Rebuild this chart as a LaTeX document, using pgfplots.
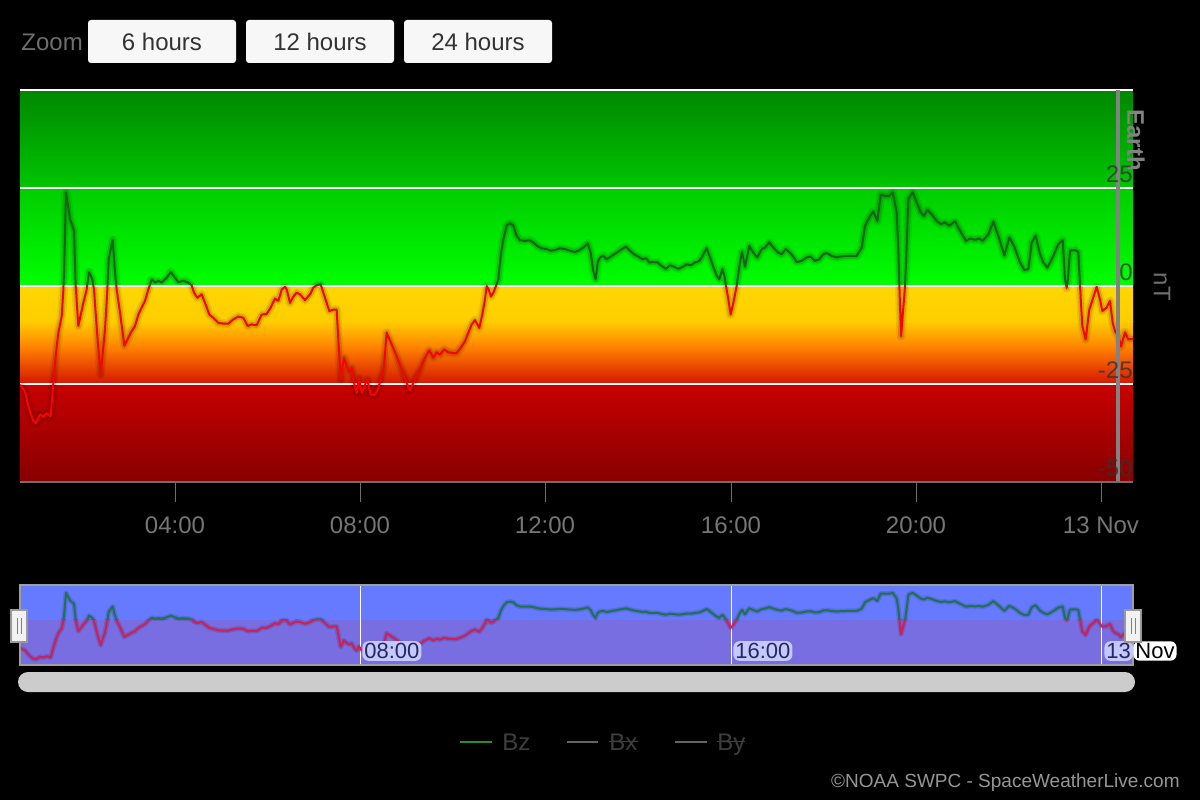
\documentclass[border=0pt]{standalone}
\usepackage{pgfplots}
\pgfplotsset{compat=1.18}
\usepackage{pgfplotstable}
\usepackage{fontspec}
\setmainfont{Liberation Sans}

\definecolor{gA}{RGB}{0,135,0}
\definecolor{gB}{RGB}{0,198,0}
\definecolor{gC}{RGB}{0,205,0}
\definecolor{gD}{RGB}{0,255,0}
\definecolor{yA}{RGB}{255,215,0}
\definecolor{yB}{RGB}{255,205,0}
\definecolor{oA}{RGB}{255,125,0}
\definecolor{oB}{RGB}{212,22,0}
\definecolor{rA}{RGB}{200,0,0}
\definecolor{rB}{RGB}{135,0,0}
\definecolor{bzgreen}{RGB}{25,100,25}
\definecolor{navblue}{RGB}{102,122,255}
\definecolor{navpurple}{RGB}{120,110,225}
\definecolor{navgreen}{RGB}{30,115,75}
\definecolor{navred}{RGB}{210,30,85}
\definecolor{lav}{RGB}{195,200,255}
\definecolor{navtext}{RGB}{40,40,95}
\definecolor{ticktext}{RGB}{118,118,118}
\definecolor{axgrey}{RGB}{110,110,110}
\definecolor{earthgrey}{RGB}{130,130,130}
\definecolor{btnfill}{RGB}{247,247,247}
\definecolor{btntext}{RGB}{51,51,51}
\definecolor{legtext}{RGB}{62,62,62}
\definecolor{leggrey}{RGB}{100,100,100}
\definecolor{leggreen}{RGB}{40,140,40}
\definecolor{credit}{RGB}{150,150,150}
\definecolor{scroll}{RGB}{204,204,204}

\pgfplotstableread{
h bz
0.654 -25.2
0.762 -26.9
0.834 -30.7
0.942 -34.5
1.000 -35.0
1.086 -32.8
1.158 -33.3
1.230 -32.4
1.316 -33.3
1.374 -24.7
1.431 -17.1
1.482 -11.9
1.554 -7.7
1.590 -0.9
1.611 6.0
1.647 23.9
1.733 17.1
1.820 14.1
1.856 0.0
1.913 -10.2
2.021 -4.3
2.093 -0.9
2.144 3.6
2.215 1.7
2.251 -0.9
2.323 -12.8
2.395 -22.6
2.489 -11.1
2.539 -0.9
2.568 6.8
2.654 11.8
2.705 3.4
2.741 -0.9
2.813 -6.8
2.906 -15.2
2.993 -13.2
3.064 -11.5
3.136 -10.2
3.208 -7.3
3.280 -5.5
3.352 -3.8
3.424 -0.9
3.496 1.7
3.568 0.9
3.640 1.3
3.712 0.9
3.820 2.1
3.906 3.6
4.000 2.1
4.072 1.0
4.180 1.3
4.287 0.9
4.359 0.2
4.410 -1.7
4.482 -3.0
4.575 -2.1
4.647 -4.3
4.741 -7.3
4.827 -8.1
4.935 -9.4
5.043 -9.6
5.150 -9.6
5.258 -8.5
5.366 -7.8
5.474 -8.1
5.568 -10.2
5.654 -9.8
5.762 -10.0
5.870 -7.3
5.978 -7.1
6.064 -5.5
6.158 -3.2
6.230 -3.8
6.302 -0.9
6.374 -0.2
6.410 -0.9
6.482 -4.3
6.554 -2.7
6.625 -1.7
6.697 -2.1
6.806 -3.6
6.914 -2.1
6.986 -0.4
7.058 0.2
7.144 0.4
7.201 -1.7
7.273 -4.3
7.331 -6.4
7.417 -6.0
7.489 -6.0
7.525 -13.6
7.576 -23.9
7.647 -18.3
7.705 -20.5
7.763 -21.8
7.813 -20.9
7.863 -24.7
7.921 -27.3
7.971 -23.5
8.029 -27.3
8.101 -25.2
8.151 -23.9
8.223 -27.7
8.317 -27.7
8.388 -26.0
8.460 -23.0
8.511 -20.5
8.568 -11.9
8.676 -14.9
8.784 -17.9
8.892 -21.3
9.000 -24.7
9.072 -26.6
9.144 -24.7
9.216 -23.0
9.302 -20.9
9.396 -18.3
9.489 -16.4
9.576 -18.3
9.647 -16.9
9.719 -17.5
9.806 -16.2
9.899 -16.9
10.007 -17.1
10.079 -17.1
10.165 -15.8
10.259 -14.1
10.331 -11.9
10.403 -9.8
10.475 -8.7
10.568 -10.7
10.640 -6.8
10.691 -3.4
10.727 0.0
10.770 -0.9
10.820 -2.7
10.871 -1.7
10.928 0.0
10.979 1.7
11.029 7.7
11.086 11.9
11.158 15.4
11.230 16.0
11.302 15.4
11.374 12.8
11.446 11.7
11.554 11.5
11.648 11.7
11.734 11.1
11.820 10.2
11.914 9.6
12.022 9.4
12.115 9.0
12.201 9.2
12.310 9.6
12.418 9.4
12.526 9.0
12.634 8.7
12.706 9.0
12.814 9.8
12.907 10.9
12.972 8.5
13.029 3.8
13.080 1.7
13.123 6.0
13.173 7.3
13.245 7.7
13.317 6.8
13.425 7.7
13.533 8.5
13.641 9.4
13.735 10.0
13.821 9.0
13.907 8.1
14.001 7.5
14.094 6.8
14.166 7.1
14.238 6.0
14.324 6.1
14.418 6.0
14.504 5.1
14.598 4.4
14.684 5.3
14.770 4.9
14.864 4.4
14.957 4.9
15.044 5.5
15.130 5.3
15.224 6.0
15.317 6.4
15.389 7.7
15.475 9.6
15.548 7.3
15.619 4.9
15.691 2.7
15.749 1.7
15.814 4.3
15.857 2.6
15.893 0.0
15.943 -3.4
15.993 -7.3
16.051 -4.3
16.123 0.0
16.181 5.1
16.238 8.7
16.303 4.9
16.396 10.2
16.483 8.5
16.569 7.3
16.663 9.4
16.734 9.8
16.828 11.1
16.914 9.8
17.022 8.5
17.094 8.1
17.180 9.4
17.274 8.5
17.346 7.5
17.418 6.1
17.526 6.4
17.634 7.3
17.720 7.5
17.814 6.4
17.907 6.8
17.993 8.1
18.066 8.4
18.173 7.7
18.281 7.3
18.354 7.5
18.498 7.7
18.714 7.7
18.822 9.8
18.894 15.4
18.987 17.5
19.073 19.0
19.160 16.6
19.232 23.2
19.325 23.0
19.419 23.0
19.491 23.9
19.577 18.8
19.613 9.4
19.635 0.0
19.671 -12.8
19.757 0.0
19.793 10.2
19.829 22.2
19.922 23.9
20.009 21.3
20.095 18.8
20.167 17.9
20.239 19.4
20.332 18.3
20.440 16.6
20.534 15.8
20.620 16.2
20.714 15.4
20.836 16.5
20.944 14.1
21.073 11.5
21.160 12.1
21.268 11.8
21.361 12.1
21.433 11.5
21.555 13.2
21.663 16.4
21.771 12.8
21.901 7.8
22.009 12.4
22.110 10.2
22.239 6.0
22.332 4.1
22.419 4.3
22.491 11.1
22.577 12.8
22.671 8.1
22.743 6.0
22.829 4.7
22.944 7.3
23.066 10.7
23.160 11.7
23.210 1.7
23.246 -0.5
23.268 1.3
23.318 9.0
23.426 9.2
23.498 8.7
23.534 0.0
23.584 -10.2
23.656 -13.6
23.735 -6.0
23.807 -3.4
23.893 -0.2
23.965 -3.4
24.016 -6.4
24.109 -5.5
24.181 -3.8
24.239 -9.4
24.289 -11.5
24.361 -12.8
24.419 -15.4
24.505 -11.8
24.577 -13.6
24.678 -13.5
}\bzdata

\pgfplotsset{base/.style={scale only axis, hide axis, width=556.5pt,
  xmin=0.654, xmax=24.678, anchor=south west}}
\newcommand{\fs}[1]{\fontsize{#1}{#1}\selectfont}

\begin{document}
\begin{tikzpicture}[x=0.5pt,y=0.5pt]
\fill[black] (0,0) rectangle (1200,800);

% ---------- zoom buttons ----------
\node[anchor=west, text=axgrey, font=\fs{12}, inner sep=0pt] at (21,758) {Zoom};
\foreach \xa/\xb/\t in {88/236/6 hours, 246/394/12 hours, 404/552/24 hours}{
  \fill[btnfill, rounded corners=1.5pt] (\xa,737) rectangle (\xb,780);
  \node[text=btntext, font=\fs{12}] at ({(\xa+\xb)/2},758) {\t};
}

% ---------- main plot background ----------
\shade[top color=gA, bottom color=gB] (20,710) rectangle (1133,612);
\shade[top color=gC, bottom color=gD] (20,612.5) rectangle (1133,514);
\shade[top color=yA, bottom color=yB] (20,514.5) rectangle (1133,478.5);
\shade[top color=yB, bottom color=oA] (20,479) rectangle (1133,451);
\shade[top color=oA, bottom color=oB] (20,451.5) rectangle (1133,416);
\shade[top color=rA, bottom color=rB] (20,416.5) rectangle (1133,318);
\foreach \yy in {710,612,514,416}{
  \draw[white, line width=1pt] (20,\yy) -- (1133,\yy);
}

% ---------- Bz positive zone ----------
\begin{axis}[base, at={(10pt,257pt)}, height=98pt, ymin=0, ymax=50]
\addplot[black, opacity=0.07, line width=4.5pt, line join=round, mark=none] table[x=h,y=bz] {\bzdata};
\addplot[black, opacity=0.12, line width=2.8pt, line join=round, mark=none] table[x=h,y=bz] {\bzdata};
\addplot[bzgreen, line width=1pt, line join=round, mark=none] table[x=h,y=bz] {\bzdata};
\end{axis}
% ---------- Bz negative zone ----------
\begin{axis}[base, at={(10pt,159pt)}, height=98pt, ymin=-50, ymax=0]
\addplot[black, opacity=0.07, line width=4.5pt, line join=round, mark=none] table[x=h,y=bz] {\bzdata};
\addplot[black, opacity=0.12, line width=2.8pt, line join=round, mark=none] table[x=h,y=bz] {\bzdata};
\addplot[red, line width=1pt, line join=round, mark=none] table[x=h,y=bz] {\bzdata};
\end{axis}

% Earth plot line
\draw[earthgrey, line width=2pt] (1117.5,318) -- (1117.5,710);
\node[rotate=-90, text=earthgrey, font=\bfseries\fs{12}] at (1136,660) {Earth};

% y tick labels
\foreach \yy/\t in {612/25, 514/0, 416/-25, 318/-50}{
  \node[anchor=east, text=black!80, opacity=0.8, font=\fs{12}, inner sep=0pt] at (1133,\yy+14) {\t};
}
\node[rotate=-90, text=axgrey, font=\fs{12}] at (1162,513) {nT};

% bottom axis line and ticks
\draw[axgrey, line width=1pt] (20,318) -- (1133,318);
\foreach \xx/\t in {175/04:00, 360/08:00, 545/12:00, 731/16:00, 916/20:00, 1101/13 Nov}{
  \draw[axgrey, line width=0.5pt] (\xx,318) -- (\xx,298);
  \node[text=ticktext, font=\fs{12}] at (\xx,275) {\t};
}

% ---------- navigator ----------
\fill[navblue] (20,215) rectangle (1133,180.3);
\fill[navpurple] (20,180.3) rectangle (1133,135);
\foreach \xx in {360,731,1101}{
  \draw[white, line width=0.5pt] (\xx,135) -- (\xx,215);
}
\begin{axis}[base, at={(10pt,90.15pt)}, height=17.35pt, ymin=0, ymax=30.7]
\addplot[black, opacity=0.12, line width=2.5pt, line join=round, mark=none] table[x=h,y=bz] {\bzdata};
\addplot[navgreen, line width=1pt, line join=round, mark=none] table[x=h,y=bz] {\bzdata};
\end{axis}
\begin{axis}[base, at={(10pt,67.5pt)}, height=22.65pt, ymin=-40, ymax=0]
\addplot[black, opacity=0.12, line width=2.5pt, line join=round, mark=none] table[x=h,y=bz] {\bzdata};
\addplot[navred, line width=1pt, line join=round, mark=none] table[x=h,y=bz] {\bzdata};
\end{axis}
\draw[gray!75, line width=0.75pt] (20,135) rectangle (1133,215);

\node[anchor=west, fill=lav, rounded corners=3pt, inner sep=1pt, text=navtext, font=\fs{11}] at (362,149) {08:00};
\node[anchor=west, fill=lav, rounded corners=3pt, inner sep=1pt, text=navtext, font=\fs{11}] at (733,149) {16:00};
\node[anchor=west, fill=lav, rounded corners=3pt, inner sep=1pt, text=navtext, font=\fs{11}] at (1104,149) {13};
\node[anchor=west, fill=white, rounded corners=3pt, inner sep=1pt, text=black, font=\fs{11}] at (1133,149) {Nov};

% handles
\foreach \hx in {19,1133}{
  \filldraw[fill=black!5, draw=gray!80, line width=0.75pt] (\hx-8,190) rectangle (\hx+8,158);
  \draw[gray, line width=0.5pt] (\hx-2,182) -- (\hx-2,166);
  \draw[gray, line width=0.5pt] (\hx+2,182) -- (\hx+2,166);
}

% scrollbar
\fill[scroll, rounded corners=5pt] (18,108) rectangle (1135,128);

% ---------- legend ----------
\draw[leggreen, line width=1pt] (460,58) -- (492,58);
\node[anchor=base west, text=legtext, font=\fs{12}, inner sep=0pt] at (502,50) {Bz};
\draw[leggrey, line width=1pt] (567,58) -- (598,58);
\node[anchor=base west, text=legtext, font=\fs{12}, inner sep=0pt] at (609,50) {Bx};
\draw[legtext, line width=0.6pt] (609,58.5) -- (638,58.5);
\draw[leggrey, line width=1pt] (675,58) -- (707,58);
\node[anchor=base west, text=legtext, font=\fs{12}, inner sep=0pt] at (717,50) {By};
\draw[legtext, line width=0.6pt] (717,58.5) -- (745,58.5);

% credit
\node[anchor=east, text=credit, font=\fs{9.5}, inner sep=0pt] at (1180,17) {\textcopyright NOAA SWPC - SpaceWeatherLive.com};
\end{tikzpicture}
\end{document}
